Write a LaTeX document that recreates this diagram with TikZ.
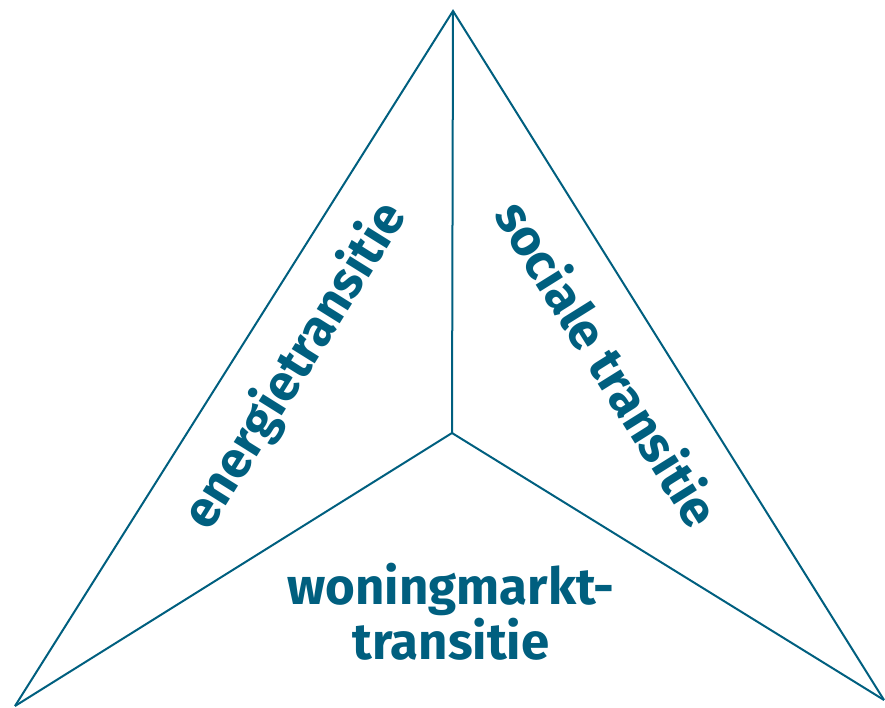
\documentclass[tikz,border=0pt]{standalone}
\usepackage{fontspec}
\setmainfont{Fira Sans}
\usepackage{tikz}
\usetikzlibrary{positioning}

\definecolor{petrol}{HTML}{005F7F}

\begin{document}
\begin{tikzpicture}[x=1pt, y=-1pt, line width=2pt,
    label/.style={text=petrol, font=\fontsize{51}{55}\selectfont\bfseries, align=center, inner sep=0pt}]

\useasboundingbox (0,0) rectangle (885,708);

% Corners of the triangle
\coordinate (top) at (453,11);
\coordinate (left) at (15,706);
\coordinate (right) at (884,700);
\coordinate (mid) at (452,433);

% Outer sides (no base)
\draw[petrol] (left) -- (top) -- (right);

% Inner spokes
\foreach \p in {top,left,right} {
    \draw[petrol] (mid) -- (\p);
}

% Labels
\node[label, rotate=58] (energie) at (296,366) {energietransitie};
\node[label, rotate=-58] (sociaal) at (609,363) {sociale transitie};
\node[label] (woning) at (451,612) {woningmarkt-\\transitie};

\end{tikzpicture}
\end{document}
